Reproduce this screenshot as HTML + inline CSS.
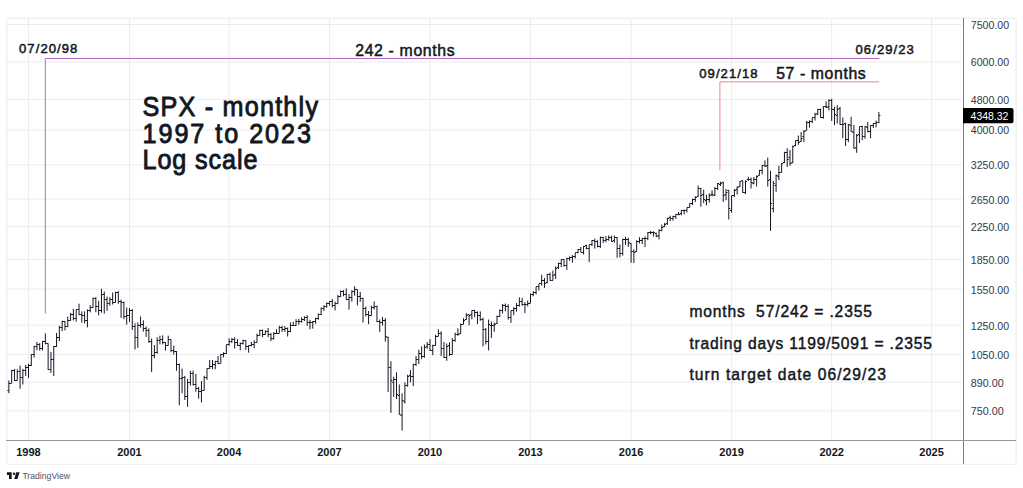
<!DOCTYPE html>
<html><head><meta charset="utf-8">
<style>
html,body{margin:0;padding:0;background:#fff;}
body{width:1023px;height:488px;overflow:hidden;position:relative;font-family:"Liberation Sans",sans-serif;}
svg{position:absolute;left:0;top:0;}
</style></head><body>
<svg width="1023" height="488" viewBox="0 0 1023 488" font-family="Liberation Sans, sans-serif">
<rect x="6.9" y="18.2" width="1009.2" height="446.1" rx="1" fill="none" stroke="#e9ebf0"/>
<path d="M6 24.50H962 M6 61.94H962 M6 99.39H962 M6 129.98H962 M6 164.82H962 M6 199.07H962 M6 226.53H962 M6 259.37H962 M6 289.06H962 M6 325.16H962 M6 354.41H962 M6 382.16H962 M6 410.87H962 M28.50 18V440 M129.50 18V440 M229.10 18V440 M329.50 18V440 M430.00 18V440 M530.50 18V440 M631.10 18V440 M731.60 18V440 M831.70 18V440 M931.60 18V440" stroke="#ececec" stroke-width="1" fill="none"/>
<path d="M8.86 380.5V393.2M7.36 390.5H8.86M8.86 383.5H10.36M11.67 369.8V383.1M10.17 383.5H11.67M11.67 370.5H13.17M14.47 369.1V380.9M12.97 370.5H14.47M14.47 380.5H15.97M17.28 369.4V380.4M15.78 380.5H17.28M17.28 371.5H18.78M20.08 365.6V388.8M18.58 371.5H20.08M20.08 377.5H21.58M22.89 368.9V384.5M21.39 377.5H22.89M22.89 370.5H24.39M25.69 364.9V376.0M24.19 370.5H25.69M25.69 367.5H27.19M28.5 363.8V377.9M27.00 367.5H28.5M28.5 365.5H30.00M31.31 354.2V365.9M29.81 365.5H31.31M31.31 354.5H32.81M34.11 345.7V357.6M32.61 354.5H34.11M34.11 346.5H35.61M36.92 342.0V350.2M35.42 346.5H36.92M36.92 344.5H38.42M39.72 343.1V350.6M38.22 344.5H39.72M39.72 348.5H41.22M42.53 340.8V350.5M41.03 348.5H42.53M42.53 341.5H44.03M45.33 333.3V344.4M43.83 341.5H45.33M45.33 343.5H46.83M48.14 343.4V369.9M46.64 343.5H48.14M48.14 369.5H49.64M50.94 351.9V373.0M49.44 369.5H50.94M50.94 359.5H52.44M53.75 346.0V376.0M52.25 359.5H53.75M53.75 346.5H55.25M56.56 333.0V346.8M55.06 346.5H56.56M56.56 337.5H58.06M59.36 325.8V341.1M57.86 337.5H59.36M59.36 327.5H60.86M62.17 320.7V331.2M60.67 327.5H62.17M62.17 321.5H63.67M64.97 320.9V330.4M63.47 321.5H64.97M64.97 326.5H66.47M67.78 316.5V327.2M66.28 326.5H67.78M67.78 320.5H69.28M70.58 313.0V320.8M69.08 320.5H70.58M70.58 314.5H72.08M73.39 309.0V320.3M71.89 314.5H73.39M73.39 318.5H74.89M76.19 309.2V321.6M74.69 318.5H76.19M76.19 309.5H77.69M79.0 303.7V315.2M77.50 309.5H79.0M79.0 314.5H80.50M81.81 311.4V322.7M80.31 314.5H81.81M81.81 315.5H83.31M84.61 311.3V323.4M83.11 315.5H84.61M84.61 320.5H86.11M87.42 309.4V327.4M85.92 320.5H87.42M87.42 310.5H88.92M90.22 305.2V312.4M88.72 310.5H90.22M90.22 307.5H91.72M93.03 297.6V307.8M91.53 307.5H93.03M93.03 298.5H94.53M95.83 297.0V312.2M94.33 298.5H95.83M95.83 306.5H97.33M98.64 300.9V315.4M97.14 306.5H98.64M98.64 310.5H100.14M101.44 288.8V312.7M99.94 310.5H101.44M101.44 294.5H102.94M104.25 291.5V313.6M102.75 294.5H104.25M104.25 299.5H105.75M107.06 296.6V310.9M105.56 299.5H107.06M107.06 303.5H108.56M109.86 297.1V305.8M108.36 303.5H109.86M109.86 299.5H111.36M112.67 292.6V304.5M111.17 299.5H112.67M112.67 302.5H114.17M115.47 291.8V302.5M113.97 302.5H115.47M115.47 292.5H116.97M118.28 291.2V303.8M116.78 292.5H118.28M118.28 301.5H119.78M121.08 299.7V317.8M119.58 301.5H121.08M121.08 302.5H122.58M123.89 301.6V319.2M122.39 302.5H123.89M123.89 316.5H125.39M126.69 307.5V324.6M125.19 316.5H126.69M126.69 315.5H128.19M129.5 308.1V321.9M128.00 315.5H129.5M129.5 310.5H131.00M132.27 309.0V329.9M130.77 310.5H132.27M132.27 326.5H133.77M135.03 323.4V349.5M133.53 326.5H135.03M135.03 337.5H136.53M137.8 322.6V347.8M136.30 337.5H137.8M137.8 325.5H139.30M140.57 316.5V327.6M139.07 325.5H140.57M140.57 324.5H142.07M143.33 320.3V331.6M141.83 324.5H143.33M143.33 328.5H144.83M146.1 326.5V336.9M144.60 328.5H146.1M146.1 330.5H147.60M148.87 328.4V342.9M147.37 330.5H148.87M148.87 341.5H150.37M151.63 338.4V372.1M150.13 341.5H151.63M151.63 355.5H153.13M154.4 345.0V358.2M152.90 355.5H154.4M154.4 352.5H155.90M157.17 337.2V353.7M155.67 352.5H157.17M157.17 340.5H158.67M159.93 335.7V344.4M158.43 340.5H159.93M159.93 339.5H161.43M162.7 335.3V344.4M161.20 339.5H162.7M162.7 342.5H164.20M165.47 342.1V350.6M163.97 342.5H165.47M165.47 345.5H166.97M168.23 335.7V345.6M166.73 345.5H168.23M168.23 339.5H169.73M171.0 339.5V352.3M169.50 339.5H171.0M171.0 350.5H172.50M173.77 345.6V354.6M172.27 350.5H173.77M173.77 351.5H175.27M176.53 351.1V370.7M175.03 351.5H176.53M176.53 364.5H178.03M179.3 363.7V405.2M177.80 364.5H179.3M179.3 378.5H180.80M182.07 368.6V393.2M180.57 378.5H182.07M182.07 377.5H183.57M184.83 375.9V400.0M183.33 377.5H184.83M184.83 396.5H186.33M187.6 378.9V406.8M186.10 396.5H187.6M187.6 382.5H189.10M190.37 370.9V385.6M188.87 382.5H190.37M190.37 373.5H191.87M193.13 370.5V385.6M191.63 373.5H193.13M193.13 384.5H194.63M195.9 373.9V391.8M194.40 384.5H195.9M195.9 388.5H197.40M198.67 387.0V398.7M197.17 388.5H198.67M198.67 391.5H200.17M201.43 381.0V402.4M199.93 391.5H201.43M201.43 390.5H202.93M204.2 375.8V390.3M202.70 390.5H204.2M204.2 377.5H205.70M206.97 368.5V379.8M205.47 377.5H206.97M206.97 368.5H208.47M209.73 360.0V368.8M208.23 368.5H209.73M209.73 366.5H211.23M212.5 360.0V369.1M211.00 366.5H212.5M212.5 364.5H214.00M215.27 360.8V369.3M213.77 364.5H215.27M215.27 361.5H216.77M218.03 356.0V364.2M216.53 361.5H218.03M218.03 363.5H219.53M220.8 353.8V363.3M219.30 363.5H220.8M220.8 354.5H222.30M223.57 352.2V357.4M222.07 354.5H223.57M223.57 353.5H225.07M226.33 344.7V353.9M224.83 353.5H226.33M226.33 344.5H227.83M229.1 338.4V345.8M227.60 344.5H229.1M229.1 341.5H230.60M231.89 337.8V342.9M230.39 341.5H231.89M231.89 339.5H233.39M234.68 337.2V348.6M233.18 339.5H234.68M234.68 342.5H236.18M237.47 339.1V345.8M235.97 342.5H237.47M237.47 345.5H238.97M240.26 342.4V350.3M238.76 345.5H240.26M240.26 343.5H241.76M243.04 339.7V344.6M241.54 343.5H243.04M243.04 340.5H244.54M245.83 340.5V349.9M244.33 340.5H245.83M245.83 346.5H247.33M248.62 345.3V352.7M247.12 346.5H248.62M248.62 345.5H250.12M251.41 341.9V346.4M249.91 345.5H251.41M251.41 344.5H252.91M254.2 340.3V348.1M252.70 344.5H254.2M254.2 342.5H255.70M256.99 333.6V342.4M255.49 342.5H256.99M256.99 335.5H258.49M259.78 329.6V335.7M258.28 335.5H259.78M259.78 330.5H261.28M262.57 329.5V337.2M261.07 330.5H262.57M262.57 334.5H264.07M265.36 330.3V334.7M263.86 334.5H265.36M265.36 331.5H266.86M268.14 328.0V337.2M266.64 331.5H268.14M268.14 334.5H269.64M270.93 333.1V341.2M269.43 334.5H270.93M270.93 338.5H272.43M273.72 332.1V339.7M272.22 338.5H273.72M273.72 333.5H275.22M276.51 329.3V333.7M275.01 333.5H276.51M276.51 333.5H278.01M279.3 325.8V333.2M277.80 333.5H279.3M279.3 327.5H280.80M282.09 325.7V331.9M280.59 327.5H282.09M282.09 329.5H283.59M284.88 326.1V331.9M283.38 329.5H284.88M284.88 328.5H286.38M287.67 327.4V336.5M286.17 328.5H287.67M287.67 331.5H289.17M290.46 322.4V331.9M288.96 331.5H290.46M290.46 325.5H291.96M293.24 321.7V325.6M291.74 325.5H293.24M293.24 325.5H294.74M296.03 319.2V325.7M294.53 325.5H296.03M296.03 321.5H297.53M298.82 318.9V324.7M297.32 321.5H298.82M298.82 321.5H300.32M301.61 317.2V322.7M300.11 321.5H301.61M301.61 319.5H303.11M304.4 316.2V321.1M302.90 319.5H304.4M304.4 317.5H305.90M307.19 315.2V325.8M305.69 317.5H307.19M307.19 322.5H308.69M309.98 319.8V329.3M308.48 322.5H309.98M309.98 322.5H311.48M312.77 321.1V328.6M311.27 322.5H312.77M312.77 321.5H314.27M315.56 317.7V323.6M314.06 321.5H315.56M315.56 318.5H317.06M318.34 313.5V319.8M316.84 318.5H318.34M318.34 314.5H319.84M321.13 307.4V315.1M319.63 314.5H321.13M321.13 308.5H322.63M323.92 305.2V310.9M322.42 308.5H323.92M323.92 306.5H325.42M326.71 302.4V307.8M325.21 306.5H326.71M326.71 303.5H328.21M329.5 301.2V305.7M328.00 303.5H329.5M329.5 301.5H331.00M332.29 298.9V307.4M330.79 301.5H332.29M332.29 305.5H333.79M335.08 301.5V310.5M333.58 305.5H335.08M335.08 303.5H336.58M337.88 294.8V304.2M336.38 303.5H337.88M337.88 296.5H339.38M340.67 290.6V297.2M339.17 296.5H340.67M340.67 291.5H342.17M343.46 290.1V296.3M341.96 291.5H343.46M343.46 294.5H344.96M346.25 288.4V299.8M344.75 294.5H346.25M346.25 299.5H347.75M349.04 294.1V309.7M347.54 299.5H349.04M349.04 297.5H350.54M351.83 290.3V301.5M350.33 297.5H351.83M351.83 291.5H353.33M354.62 286.3V295.7M353.12 291.5H354.62M354.62 289.5H356.12M357.42 289.5V305.4M355.92 289.5H357.42M357.42 296.5H358.92M360.21 291.9V301.9M358.71 296.5H360.21M360.21 298.5H361.71M363.0 297.8V322.5M361.50 298.5H363.0M363.0 308.5H364.50M365.79 306.6V316.4M364.29 308.5H365.79M365.79 314.5H367.29M368.58 311.0V324.2M367.08 314.5H368.58M368.58 315.5H370.08M371.38 305.6V315.5M369.88 315.5H371.38M371.38 307.5H372.88M374.17 301.4V309.4M372.67 307.5H374.17M374.17 306.5H375.67M376.96 305.7V322.2M375.46 306.5H376.96M376.96 321.5H378.46M379.75 319.6V331.9M378.25 321.5H379.75M379.75 322.5H381.25M382.54 316.9V325.5M381.04 322.5H382.54M382.54 320.5H384.04M385.33 318.2V341.6M383.83 320.5H385.33M385.33 336.5H386.83M388.12 336.7V391.9M386.62 337.5H388.12M388.12 367.5H389.62M390.92 361.3V412.9M389.42 367.5H390.92M390.92 380.5H392.42M393.71 376.8V396.8M392.21 382.5H393.71M393.71 379.5H395.21M396.5 372.3V399.1M395.00 379.5H396.5M396.5 394.5H398.00M399.29 384.5V414.4M397.79 395.5H399.29M399.29 414.5H400.79M402.08 393.3V430.6M400.58 415.5H402.08M402.08 400.5H403.58M404.88 382.4V403.6M403.38 401.5H404.88M404.88 385.5H406.38M407.67 374.7V386.7M406.17 385.5H407.67M407.67 376.5H409.17M410.46 370.1V382.4M408.96 375.5H410.46M410.46 376.5H411.96M413.25 363.7V386.1M411.75 376.5H413.25M413.25 364.5H414.75M416.04 356.1V366.2M414.54 364.5H416.04M416.04 359.5H417.54M418.83 349.7V364.0M417.33 359.5H418.83M418.83 353.5H420.33M421.62 346.4V359.2M420.12 353.5H421.62M421.62 356.5H423.12M424.42 344.5V357.7M422.92 356.5H424.42M424.42 347.5H425.92M427.21 342.0V348.8M425.71 346.5H427.21M427.21 344.5H428.71M430.0 339.1V351.0M428.50 344.5H430.0M430.0 350.5H431.50M432.79 344.7V355.3M431.29 350.5H432.79M432.79 345.5H434.29M435.58 334.8V345.8M434.08 345.5H435.58M435.58 336.5H437.08M438.38 329.3V336.2M436.88 336.5H438.38M438.38 333.5H439.88M441.17 331.3V355.9M439.67 333.5H441.17M441.17 348.5H442.67M443.96 341.9V357.9M442.46 348.5H443.96M443.96 357.5H445.46M446.75 343.4V360.8M445.25 357.5H446.75M446.75 346.5H448.25M449.54 342.2V356.1M448.04 345.5H449.54M449.54 354.5H451.04M452.33 338.1V354.5M450.83 354.5H452.33M452.33 340.5H453.83M455.12 332.5V341.8M453.62 340.5H455.12M455.12 334.5H456.62M457.92 328.3V335.8M456.42 334.5H457.92M457.92 334.5H459.42M460.71 323.5V333.9M459.21 333.5H460.71M460.71 324.5H462.21M463.5 318.2V324.1M462.00 324.5H463.5M463.5 320.5H465.00M466.29 313.0V320.0M464.79 319.5H466.29M466.29 315.5H467.79M469.08 314.5V325.3M467.58 314.5H469.08M469.08 315.5H470.58M471.88 310.4V319.3M470.38 314.5H471.88M471.88 310.5H473.38M474.67 309.7V317.1M473.17 310.5H474.67M474.67 312.5H476.17M477.46 311.4V324.1M475.96 312.5H477.46M477.46 315.5H478.96M480.25 311.4V320.8M478.75 315.5H480.25M480.25 319.5H481.75M483.04 317.6V346.4M481.54 319.5H483.04M483.04 329.5H484.54M485.83 328.0V344.5M484.33 329.5H485.83M485.83 341.5H487.33M488.62 319.5V350.5M487.12 341.5H488.62M488.62 324.5H490.12M491.42 321.5V337.9M489.92 325.5H491.42M491.42 325.5H492.92M494.21 322.6V331.7M492.71 325.5H494.21M494.21 324.5H495.71M497.0 315.5V324.0M495.50 323.5H497.0M497.0 316.5H498.50M499.79 309.5V317.0M498.29 316.5H499.79M499.79 310.5H501.29M502.58 303.9V313.5M501.08 310.5H502.58M502.58 305.5H504.08M505.38 303.5V311.3M503.88 305.5H505.38M505.38 306.5H506.88M508.17 304.3V319.6M506.67 306.5H508.17M508.17 317.5H509.67M510.96 310.6V322.9M509.46 317.5H510.96M510.96 310.5H512.46M513.75 307.1V315.3M512.25 310.5H513.75M513.75 308.5H515.25M516.54 303.0V311.7M515.04 308.5H516.54M516.54 305.5H518.04M519.33 297.4V306.6M517.83 305.5H519.33M519.33 301.5H520.83M522.12 297.8V305.7M520.62 301.5H522.12M522.12 304.5H523.62M524.92 302.1V313.1M523.42 304.5H524.92M524.92 304.5H526.42M527.71 300.5V306.4M526.21 304.5H527.71M527.71 303.5H529.21M530.5 293.5V303.0M529.00 303.5H530.5M530.5 294.5H532.00M533.29 291.1V296.2M531.79 294.5H533.29M533.29 292.5H534.79M536.09 286.9V294.4M534.59 292.5H536.09M536.09 286.5H537.59M538.88 284.0V290.6M537.38 286.5H538.88M538.88 283.5H540.38M541.68 274.8V285.7M540.18 283.5H541.68M541.68 280.5H543.18M544.47 278.1V287.9M542.97 280.5H544.47M544.47 283.5H545.97M547.27 273.7V283.3M545.77 282.5H547.27M547.27 274.5H548.77M550.06 272.6V280.9M548.56 274.5H550.06M550.06 280.5H551.56M552.86 270.6V280.3M551.36 280.5H552.86M552.86 275.5H554.36M555.65 266.3V278.9M554.15 274.5H555.65M555.65 268.5H557.15M558.44 262.7V269.1M556.94 267.5H558.44M558.44 263.5H559.94M561.24 259.4V267.0M559.74 263.5H561.24M561.24 259.5H562.74M564.03 259.3V266.7M562.53 259.5H564.03M564.03 265.5H565.53M566.83 257.8V269.9M565.33 265.5H566.83M566.83 258.5H568.33M569.62 256.3V260.8M568.12 258.5H569.62M569.62 257.5H571.12M572.42 255.1V262.6M570.92 257.5H572.42M572.42 256.5H573.92M575.21 252.8V258.5M573.71 256.5H575.21M575.21 252.5H576.71M578.01 249.0V253.5M576.51 252.5H578.01M578.01 249.5H579.51M580.8 247.0V252.2M579.30 249.5H580.8M580.8 252.5H582.30M583.59 245.9V254.5M582.09 252.5H583.59M583.59 246.5H585.09M586.39 244.7V249.3M584.89 245.5H586.39M586.39 248.5H587.89M589.18 244.8V262.1M587.68 248.5H589.18M589.18 244.5H590.68M591.98 240.1V246.2M590.48 244.5H591.98M591.98 240.5H593.48M594.77 238.6V248.6M593.27 240.5H594.77M594.77 241.5H596.27M597.57 240.3V247.3M596.07 241.5H597.57M597.57 246.5H599.07M600.36 236.5V247.9M598.86 246.5H600.36M600.36 237.5H601.86M603.16 236.7V243.0M601.66 237.5H603.16M603.16 240.5H604.66M605.95 236.0V242.3M604.45 240.5H605.95M605.95 239.5H607.45M608.74 235.4V240.7M607.24 239.5H608.74M608.74 237.5H610.24M611.54 235.7V241.6M610.04 237.5H611.54M611.54 241.5H613.04M614.33 235.5V242.6M612.83 240.5H614.33M614.33 237.5H615.83M617.13 237.1V257.8M615.63 237.5H617.13M617.13 248.5H618.63M619.92 244.5V257.4M618.42 248.5H619.92M619.92 253.5H621.42M622.72 238.6V255.5M621.22 253.5H622.72M622.72 239.5H624.22M625.51 236.8V244.7M624.01 239.5H625.51M625.51 239.5H627.01M628.31 237.8V246.9M626.81 239.5H628.31M628.31 242.5H629.81M631.1 243.1V262.8M629.60 243.5H631.1M631.1 251.5H632.60M633.89 249.4V263.0M632.39 251.5H633.89M633.89 252.5H635.39M636.68 240.3V251.7M635.18 251.5H636.68M636.68 241.5H638.18M639.48 237.2V243.5M637.98 241.5H639.48M639.48 240.5H640.98M642.27 237.8V244.1M640.77 240.5H642.27M642.27 238.5H643.77M645.06 236.5V247.0M643.56 238.5H645.06M645.06 238.5H646.56M647.85 232.1V240.2M646.35 238.5H647.85M647.85 232.5H649.35M650.64 230.8V234.3M649.14 232.5H650.64M650.64 232.5H652.14M653.43 231.2V236.6M651.93 232.5H653.43M653.43 232.5H654.93M656.23 232.6V236.9M654.73 233.5H656.23M656.23 236.5H657.73M659.02 229.2V239.4M657.52 235.5H659.02M659.02 230.5H660.52M661.81 224.5V231.3M660.31 230.5H661.81M661.81 227.5H663.31M664.6 222.8V226.9M663.10 226.5H664.6M664.6 224.5H666.10M667.39 217.7V224.9M665.89 223.5H667.39M667.39 218.5H668.89M670.18 215.6V221.2M668.68 217.5H670.18M670.18 218.5H671.68M672.98 215.8V220.7M671.48 218.5H672.98M672.98 216.5H674.48M675.77 214.4V219.0M674.27 216.5H675.77M675.77 214.5H677.27M678.56 212.0V215.3M677.06 214.5H678.56M678.56 214.5H680.06M681.35 209.9V215.2M679.85 213.5H681.35M681.35 210.5H682.85M684.14 209.5V214.5M682.64 210.5H684.14M684.14 210.5H685.64M686.93 207.5V212.5M685.43 210.5H686.93M686.93 207.5H688.43M689.73 203.4V207.5M688.23 207.5H689.73M689.73 203.5H691.23M692.52 198.6V205.0M691.02 203.5H692.52M692.52 199.5H694.02M695.31 196.2V201.9M693.81 199.5H695.31M695.31 197.5H696.81M698.1 185.5V197.0M696.60 196.5H698.1M698.1 188.5H699.60M700.89 187.7V206.7M699.39 188.5H700.89M700.89 195.5H702.39M703.68 189.7V203.2M702.18 194.5H703.68M703.68 199.5H705.18M706.48 194.8V205.3M704.98 200.5H706.48M706.48 199.5H707.98M709.27 193.3V202.6M707.77 199.5H709.27M709.27 195.5H710.77M712.06 190.3V196.4M710.56 194.5H712.06M712.06 194.5H713.56M714.85 187.0V196.0M713.35 195.5H714.85M714.85 188.5H716.35M717.64 183.0V190.1M716.14 188.5H717.64M717.64 183.5H719.14M720.43 181.6V186.0M718.93 184.5H720.43M720.43 183.5H721.93M723.23 181.7V202.0M721.73 182.5H723.23M723.23 195.5H724.73M726.02 188.9V200.3M724.52 194.5H726.02M726.02 192.5H727.52M728.81 189.8V219.5M727.31 190.5H728.81M728.81 208.5H730.31M731.6 195.4V212.7M730.10 210.5H731.6M731.6 195.5H733.10M734.38 189.0V197.1M732.88 195.5H734.38M734.38 190.5H735.88M737.16 186.3V194.6M735.66 189.5H737.16M737.16 187.5H738.66M739.94 181.1V186.9M738.44 186.5H739.94M739.94 181.5H741.44M742.72 180.8V192.8M741.22 180.5H742.72M742.72 192.5H744.22M745.5 180.3V194.2M744.00 192.5H745.5M745.5 181.5H747.00M748.28 176.7V180.9M746.78 179.5H748.28M748.28 179.5H749.78M751.06 177.5V188.5M749.56 179.5H751.06M751.06 182.5H752.56M753.84 177.0V184.4M752.34 183.5H753.84M753.84 179.5H755.34M756.62 175.5V186.5M755.12 179.5H756.62M756.62 176.5H758.12M759.41 169.8V175.4M757.91 175.5H759.41M759.41 170.5H760.91M762.19 164.9V174.4M760.69 170.5H762.19M762.19 165.5H763.69M764.97 160.4V166.7M763.47 165.5H764.97M764.97 166.5H766.47M767.75 157.6V186.5M766.25 165.5H767.75M767.75 180.5H769.25M770.53 170.8V230.9M769.03 179.5H770.53M770.53 203.5H772.03M773.31 180.8V212.4M771.81 208.5H773.31M773.31 183.5H774.81M776.09 174.5V191.8M774.59 185.5H776.09M776.09 175.5H777.59M778.87 165.7V180.2M777.37 176.5H778.87M778.87 172.5H780.37M781.65 163.3V172.7M780.15 172.5H781.65M781.65 163.5H783.15M784.43 151.7V163.0M782.93 162.5H784.43M784.43 152.5H785.93M787.21 148.2V166.9M785.71 152.5H787.21M787.21 159.5H788.71M789.99 150.0V165.7M788.49 157.5H789.99M789.99 163.5H791.49M792.77 145.5V163.3M791.27 162.5H792.77M792.77 146.5H794.27M795.55 140.4V146.1M794.05 145.5H795.55M795.55 140.5H797.05M798.33 135.5V144.8M796.83 140.5H798.33M798.33 142.5H799.83M801.11 132.1V141.9M799.61 141.5H801.11M801.11 138.5H802.61M803.89 130.2V142.0M802.39 136.5H803.89M803.89 131.5H805.39M806.68 121.0V130.3M805.18 130.5H806.68M806.68 122.5H808.18M809.46 120.3V127.6M807.96 122.5H809.46M809.46 121.5H810.96M812.24 117.8V123.2M810.74 121.5H812.24M812.24 117.5H813.74M815.02 112.8V120.5M813.52 117.5H815.02M815.02 114.5H816.52M817.8 108.8V115.2M816.30 113.5H817.8M817.8 109.5H819.30M820.58 108.5V117.6M819.08 109.5H820.58M820.58 117.5H822.08M823.36 106.2V118.7M821.86 117.5H823.36M823.36 106.5H824.86M826.14 101.4V108.0M824.64 106.5H826.14M826.14 107.5H827.64M828.92 99.1V110.4M827.42 106.5H828.92M828.92 100.5H830.42M831.7 98.7V120.9M830.20 100.5H831.7M831.7 109.5H833.20M834.48 106.7V125.2M832.98 109.5H834.48M834.48 114.5H835.98M837.25 105.2V123.5M835.75 115.5H837.25M837.25 109.5H838.75M840.03 106.8V124.8M838.53 108.5H840.03M840.03 124.5H841.53M842.8 117.5V138.1M841.30 124.5H842.8M842.8 124.5H844.30M845.58 122.7V146.0M844.08 123.5H845.58M845.58 139.5H847.08M848.35 124.2V142.1M846.85 139.5H848.35M848.35 124.5H849.85M851.12 116.9V131.9M849.62 125.5H851.12M851.12 131.5H852.62M853.9 125.0V148.4M852.40 132.5H853.9M853.9 148.5H855.40M856.68 134.0V152.8M855.18 147.5H856.68M856.68 135.5H858.18M859.45 126.7V143.1M857.95 134.5H859.45M859.45 126.5H860.95M862.23 125.8V140.2M860.73 126.5H862.23M862.23 136.5H863.73M865.0 126.1V138.8M863.50 136.5H865.0M865.0 126.5H866.50M867.78 122.0V132.4M866.28 127.5H867.78M867.78 131.5H869.28M870.55 125.4V138.2M869.05 131.5H870.55M870.55 125.5H872.05M873.33 123.0V128.0M871.83 125.5H873.33M873.33 123.5H874.83M876.1 120.6V127.4M874.60 123.5H876.1M876.1 122.5H877.60M878.88 112.1V123.2M877.38 122.5H878.88M878.88 115.5H880.38" stroke="#131722" stroke-width="1" fill="none"/>
<path d="M963.5 18V464" stroke="#787b86"/>
<path d="M6 440.5H1016" stroke="#9598a1"/>
<!-- annotations -->
<path d="M45.3 313.5V58.5H879.2" stroke="#ba68c8" fill="none"/>
<path d="M719.9 170.5V81.9H879.2" stroke="#f2838d" fill="none"/>
<g fill="#131722" stroke="#131722" stroke-width="0.5">
<text x="19" y="53" font-size="13.1" textLength="58.4" lengthAdjust="spacing">07/20/98</text>
<text x="355.2" y="55.5" font-size="15.8" textLength="99.5" lengthAdjust="spacing">242 - months</text>
<text x="855.5" y="54.4" font-size="13.1" textLength="58.4" lengthAdjust="spacing">06/29/23</text>
<text x="699.2" y="77.9" font-size="13.1" textLength="58.4" lengthAdjust="spacing">09/21/18</text>
<text x="776.2" y="78.6" font-size="15.8" textLength="89.5" lengthAdjust="spacing">57 - months</text>
</g>
<g fill="#131722" stroke="#131722" stroke-width="0.9" transform="translate(142.5 0) scale(0.94 1)">
<text x="0" y="115.7" font-size="26.8" textLength="186.7" lengthAdjust="spacing">SPX - monthly</text>
<text x="0" y="142.7" font-size="26.8" textLength="179.3" lengthAdjust="spacing">1997 to 2023</text>
<text x="0" y="169.4" font-size="26.8" textLength="122.3" lengthAdjust="spacing">Log scale</text>
</g>
<g fill="#131722" stroke="#131722" stroke-width="0.45">
<text x="689.4" y="316.9" font-size="15.6" textLength="182.5" lengthAdjust="spacing" xml:space="preserve">months  57/242 = .2355</text>
<text x="689.4" y="348.7" font-size="15.6" textLength="242.5" lengthAdjust="spacing">trading days 1199/5091 = .2355</text>
<text x="689.4" y="379.7" font-size="15.6" textLength="196.5" lengthAdjust="spacing">turn target date 06/29/23</text>
</g>
<g fill="#131722" font-size="11" font-weight="bold" text-anchor="middle">
<text x="28.5" y="456">1998</text>
<text x="129.5" y="456">2001</text>
<text x="229.1" y="456">2004</text>
<text x="329.5" y="456">2007</text>
<text x="430.0" y="456">2010</text>
<text x="530.5" y="456">2013</text>
<text x="631.1" y="456">2016</text>
<text x="731.6" y="456">2019</text>
<text x="831.7" y="456">2022</text>
<text x="931.6" y="456">2025</text>
</g>
<g fill="#363a45" font-size="10.6">
<text x="970.8" y="28.7" textLength="38.3" lengthAdjust="spacingAndGlyphs">7500.00</text>
<text x="970.8" y="65.7" textLength="38.3" lengthAdjust="spacingAndGlyphs">6000.00</text>
<text x="970.8" y="103.7" textLength="38.3" lengthAdjust="spacingAndGlyphs">4800.00</text>
<text x="970.8" y="133.7" textLength="38.3" lengthAdjust="spacingAndGlyphs">4000.00</text>
<text x="970.8" y="168.7" textLength="38.3" lengthAdjust="spacingAndGlyphs">3250.00</text>
<text x="970.8" y="203.7" textLength="38.3" lengthAdjust="spacingAndGlyphs">2650.00</text>
<text x="970.8" y="230.7" textLength="38.3" lengthAdjust="spacingAndGlyphs">2250.00</text>
<text x="970.8" y="263.7" textLength="38.3" lengthAdjust="spacingAndGlyphs">1850.00</text>
<text x="970.8" y="293.7" textLength="38.3" lengthAdjust="spacingAndGlyphs">1550.00</text>
<text x="970.8" y="329.7" textLength="38.3" lengthAdjust="spacingAndGlyphs">1250.00</text>
<text x="970.8" y="358.7" textLength="38.3" lengthAdjust="spacingAndGlyphs">1050.00</text>
<text x="970.8" y="386.7" textLength="32.8" lengthAdjust="spacingAndGlyphs">890.00</text>
<text x="970.8" y="414.7" textLength="32.8" lengthAdjust="spacingAndGlyphs">750.00</text>
</g>
<path d="M963 108H1011.5A2 2 0 0 1 1013.5 110V121.3A2 2 0 0 1 1011.5 123.3H963Z" fill="#000"/>
<text x="970.6" y="120" font-size="10.6" fill="#fff" textLength="37.8" lengthAdjust="spacingAndGlyphs">4348.32</text>
<!-- TV logo -->
<g fill="#131722">
<path d="M6.9 472.3H11.7V478.9H9.0V474.9H6.9Z"/>
<circle cx="14.05" cy="473.75" r="1.2"/>
<path d="M16.3 472.3H19.6L17.4 478.9H14.2Z"/>
</g>
<text x="22.4" y="478.8" font-size="8.4" fill="#50535e" textLength="47.6" lengthAdjust="spacingAndGlyphs">TradingView</text>
</svg>
</body></html>
